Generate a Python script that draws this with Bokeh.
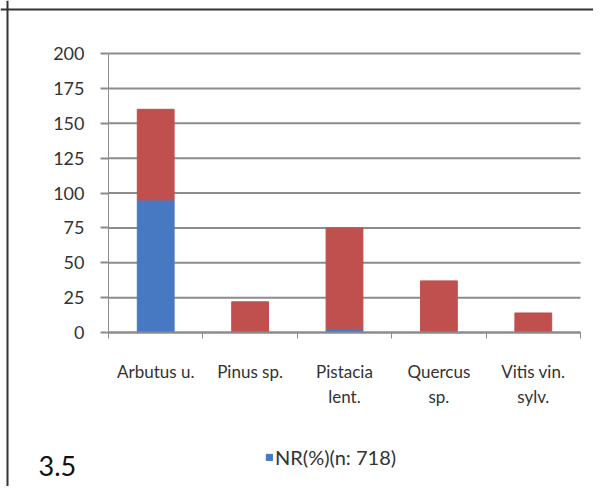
from bokeh.plotting import figure
from bokeh.models import Range1d, FixedTicker, Legend, LegendItem, Label, ColumnDataSource, Span
from bokeh.embed import file_html
from bokeh.resources import INLINE

categories = ["Arbutus u.", "Pinus sp.", "Pistacia\nlent.", "Quercus\nsp.", "Vitis vin.\nsylv."]
nr_values = [95, 0, 3, 0, 0]
other_values = [65, 22, 72, 37, 14]
y_ticks = [0, 25, 50, 75, 100, 125, 150, 175, 200]
legend_text = "NR(%)(n: 718)"
panel_label = "3.5"

BLUE = "#4679C2"
RED = "#C0504D"
GRID = "#8C8C8C"
FONT = "Lato"

# layout in figure pixels
W, H = 593, 486
PLOT_L, PLOT_R = 108, 580      # x of category 0 and of the category end
PLOT_T, PLOT_B = 53, 332       # y of 200 and of 0
BOX_X, BOX_Y = 7, 9            # outer box top-left corner
n = len(categories)
ymax = 200
xppu = (PLOT_R - PLOT_L) / n
yppu = (PLOT_B - PLOT_T) / ymax
x_start = -PLOT_L / xppu
x_end = n + (W - PLOT_R) / xppu
y_end = ymax + PLOT_T / yppu
y_start = -(H - PLOT_B) / yppu

xs = [i + 0.5 for i in range(n)]
bottoms_other = nr_values
tops_other = [a + b for a, b in zip(nr_values, other_values)]
src = ColumnDataSource(dict(x=xs, nr=nr_values, ob=bottoms_other, ot=tops_other))

p = figure(width=W, height=H, output_backend="svg", toolbar_location=None,
           x_range=Range1d(x_start, x_end), y_range=Range1d(y_start, y_end),
           min_border_left=0, min_border_right=0, min_border_top=0, min_border_bottom=0)
p.outline_line_color = None
p.background_fill_color = "white"
p.border_fill_color = "white"
p.xgrid.visible = False
p.ygrid.visible = False

# horizontal gridlines across the category span
p.segment(x0=[0] * len(y_ticks), x1=[n] * len(y_ticks), y0=y_ticks, y1=y_ticks,
          line_color=GRID, line_width=2)

r_nr = p.vbar(x="x", bottom=0, top="nr", width=0.39, color=BLUE, source=src)
p.vbar(x="x", bottom="ob", top="ot", width=0.39, color=RED, source=src)

# y axis
yax = p.yaxis[0]
yax.fixed_location = 0
yax.bounds = (0, ymax)
yax.ticker = FixedTicker(ticks=y_ticks)
yax.major_tick_out = 8
yax.major_tick_in = 0
yax.minor_tick_out = 0
yax.minor_tick_in = 0
yax.axis_line_color = GRID
yax.major_tick_line_color = GRID
yax.major_tick_line_width = 2
yax.major_label_text_font = FONT
yax.major_label_text_font_size = "18px"
yax.major_label_text_color = "#333333"
yax.major_label_standoff = 16

# x axis
xax = p.xaxis[0]
xax.fixed_location = 0
xax.bounds = (0, n)
xax.ticker = FixedTicker(ticks=xs, minor_ticks=list(range(n + 1)))
xax.major_label_overrides = {x: c for x, c in zip(xs, categories)}
xax.major_tick_out = 0
xax.major_tick_in = 0
xax.minor_tick_out = 6
xax.minor_tick_in = 0
xax.minor_tick_line_color = GRID
xax.axis_line_color = GRID
xax.axis_line_width = 2
xax.major_label_text_font = FONT
xax.major_label_text_font_size = "17px"
xax.major_label_text_color = "#333333"
xax.major_label_standoff = 22

legend = Legend(items=[LegendItem(label=legend_text, renderers=[r_nr])],
                location=(265, H - 469), orientation="horizontal",
                padding=0, margin=0, spacing=0, border_line_color=None,
                background_fill_alpha=0, glyph_width=8, glyph_height=8,
                label_standoff=2, label_text_font=FONT, label_text_font_size="20px",
                label_text_color="#333333")
p.add_layout(legend, "center")

p.add_layout(Label(x=(38 - PLOT_L) / xppu, y=-(465 - PLOT_B) / yppu, text=panel_label,
                   text_font=FONT, text_font_size="27px", text_color="#111111",
                   text_align="left", text_baseline="middle"))

# outer box edges (top and left)
p.add_layout(Span(location=ymax + (PLOT_T - BOX_Y) / yppu, dimension="width",
                  line_color="#333333", line_width=2))
p.add_layout(Span(location=(BOX_X - PLOT_L) / xppu, dimension="height",
                  line_color="#333333", line_width=2))

open("out.html", "w").write(file_html(p, INLINE))
